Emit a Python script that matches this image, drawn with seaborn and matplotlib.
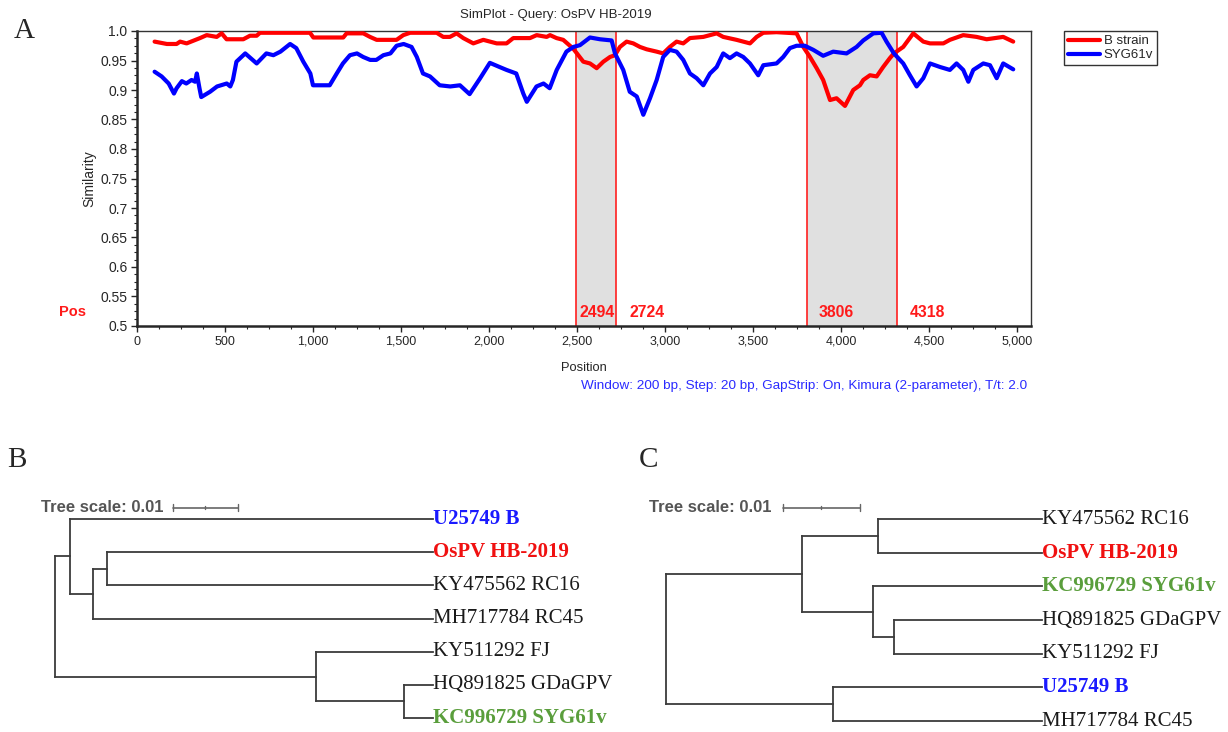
"""
SimPlot similarity curves (A) and two phylogenetic trees (B, C)
"""
import seaborn as sns
import matplotlib.pyplot as plt
import pandas as pd
import numpy as np
from matplotlib.ticker import MultipleLocator, FuncFormatter

# ---- panel A data: similarity of the query to two reference strains ----
pos_bstrain = [100, 170, 225, 245, 282, 358, 396, 453, 481, 509, 604, 642, 680, 699,
               983, 1002, 1172, 1191, 1286, 1324, 1362, 1475, 1513, 1552, 1703, 1740,
               1778, 1816, 1854, 1911, 1968, 2044, 2100, 2138, 2233, 2271, 2328, 2347,
               2384, 2422, 2479, 2536, 2574, 2612, 2650, 2688, 2716, 2744, 2782, 2820,
               2858, 2896, 2953, 2990, 3028, 3066, 3104, 3142, 3218, 3294, 3331, 3407,
               3483, 3521, 3559, 3634, 3748, 3786, 3824, 3862, 3899, 3938, 3975, 4023,
               4070, 4108, 4127, 4165, 4203, 4240, 4278, 4301, 4354, 4411, 4468, 4506,
               4582, 4619, 4695, 4771, 4828, 4922, 4979]
sim_bstrain = [0.982, 0.978, 0.978, 0.982, 0.979, 0.988, 0.993, 0.990, 0.996, 0.986,
               0.986, 0.992, 0.992, 0.997, 0.997, 0.989, 0.989, 0.996, 0.996, 0.990,
               0.985, 0.985, 0.993, 0.997, 0.997, 0.990, 0.990, 0.996, 0.988, 0.979,
               0.985, 0.979, 0.979, 0.988, 0.988, 0.993, 0.990, 0.993, 0.988, 0.985,
               0.970, 0.948, 0.945, 0.937, 0.948, 0.956, 0.959, 0.973, 0.982, 0.979,
               0.973, 0.969, 0.965, 0.962, 0.973, 0.982, 0.979, 0.988, 0.990, 0.996,
               0.990, 0.985, 0.979, 0.990, 0.997, 0.998, 0.996, 0.973, 0.956, 0.937,
               0.917, 0.883, 0.886, 0.873, 0.900, 0.908, 0.917, 0.925, 0.923, 0.939,
               0.954, 0.962, 0.973, 0.996, 0.982, 0.979, 0.979, 0.985, 0.993, 0.990,
               0.986, 0.990, 0.982]

pos_syg61v = [100, 140, 180, 210, 225, 255, 280, 310, 330, 340, 355, 365, 415, 455,
              510, 530, 545, 565, 615, 680, 735, 775, 815, 870, 905, 945, 985, 1000,
              1095, 1135, 1170, 1210, 1250, 1285, 1325, 1360, 1400, 1440, 1475, 1515,
              1560, 1590, 1625, 1665, 1720, 1780, 1835, 1890, 1950, 2005, 2060, 2100,
              2155, 2195, 2215, 2270, 2310, 2345, 2385, 2440, 2480, 2517, 2574, 2631,
              2697, 2716, 2763, 2800, 2840, 2877, 2915, 2953, 2990, 3028, 3066, 3104,
              3142, 3180, 3218, 3256, 3294, 3331, 3369, 3407, 3445, 3483, 3530, 3559,
              3634, 3672, 3710, 3748, 3795, 3843, 3899, 3956, 4032, 4089, 4127, 4184,
              4231, 4259, 4301, 4354, 4392, 4430, 4468, 4506, 4563, 4619, 4657, 4695,
              4724, 4752, 4809, 4847, 4885, 4922, 4979]
sim_syg61v = [0.931, 0.923, 0.911, 0.894, 0.903, 0.915, 0.911, 0.917, 0.914, 0.928,
              0.903, 0.888, 0.897, 0.906, 0.911, 0.906, 0.917, 0.948, 0.962, 0.945,
              0.962, 0.959, 0.965, 0.978, 0.971, 0.948, 0.928, 0.908, 0.908, 0.928,
              0.945, 0.959, 0.962, 0.956, 0.951, 0.951, 0.959, 0.962, 0.975, 0.978,
              0.973, 0.956, 0.928, 0.923, 0.908, 0.906, 0.908, 0.893, 0.920, 0.946,
              0.939, 0.934, 0.928, 0.894, 0.880, 0.906, 0.911, 0.903, 0.934, 0.965,
              0.973, 0.976, 0.989, 0.986, 0.984, 0.962, 0.934, 0.897, 0.889, 0.858,
              0.886, 0.917, 0.956, 0.968, 0.965, 0.951, 0.928, 0.920, 0.908, 0.928,
              0.939, 0.962, 0.954, 0.962, 0.956, 0.945, 0.925, 0.942, 0.945, 0.956,
              0.971, 0.975, 0.975, 0.968, 0.958, 0.965, 0.962, 0.973, 0.984, 0.996,
              0.997, 0.982, 0.962, 0.945, 0.925, 0.906, 0.920, 0.945, 0.939, 0.934,
              0.945, 0.934, 0.914, 0.934, 0.945, 0.942, 0.920, 0.945, 0.935]

breakpoints = [2494, 2724, 3806, 4318]
bp_offsets = [18, 74, 68, 74]          # label shift right of each line (bp)

# ---- panel B tree ----
b_tips = ['U25749 B', 'OsPV HB-2019', 'KY475562 RC16', 'MH717784 RC45',
          'KY511292 FJ', 'HQ891825 GDaGPV', 'KC996729 SYG61v']
b_nodes = ['root', 'n1', 'n2', 'n3', 'n4', 'n5']
b_depth = [0.0, 0.0023, 0.0058, 0.0080, 0.0402, 0.0538]
b_children = [('n1', 'n4'), ('U25749 B', 'n2'), ('n3', 'MH717784 RC45'),
              ('OsPV HB-2019', 'KY475562 RC16'), ('KY511292 FJ', 'n5'),
              ('HQ891825 GDaGPV', 'KC996729 SYG61v')]
b_tip_depth = 0.0582

# ---- panel C tree ----
c_tips = ['KY475562 RC16', 'OsPV HB-2019', 'KC996729 SYG61v', 'HQ891825 GDaGPV',
          'KY511292 FJ', 'U25749 B', 'MH717784 RC45']
c_nodes = ['root', 'u', 'p', 'q', 'r', 's']
c_depth = [0.0, 0.0177, 0.0276, 0.0270, 0.0297, 0.0217]
c_children = [('u', 's'), ('p', 'q'), ('KY475562 RC16', 'OsPV HB-2019'),
              ('KC996729 SYG61v', 'r'), ('HQ891825 GDaGPV', 'KY511292 FJ'),
              ('U25749 B', 'MH717784 RC45')]
c_tip_depth = 0.0490

scale_len = 0.01
tip_colors = {'U25749 B': '#1a1aff', 'OsPV HB-2019': '#f01010',
              'KC996729 SYG61v': '#5a9e3c'}

W, H = 1228, 732
sns.set_style("ticks")
plt.rcParams['font.family'] = ['Liberation Sans', 'DejaVu Sans']

fig = plt.figure(figsize=(W / 100, H / 100), dpi=100)


def px_axes(left, top, right, bottom):
    return fig.add_axes([left / W, 1 - bottom / H, (right - left) / W, (bottom - top) / H])


# ================= panel A =================
ax = px_axes(137, 31, 1031, 326)
df = pd.concat([
    pd.DataFrame({'Position': pos_bstrain, 'Similarity': sim_bstrain, 'strain': 'B strain'}),
    pd.DataFrame({'Position': pos_syg61v, 'Similarity': sim_syg61v, 'strain': 'SYG61v'}),
])

for a, b in zip(breakpoints[::2], breakpoints[1::2]):
    ax.axvspan(a, b, color='#e0e0e0', zorder=0, lw=0)
for p in breakpoints:
    ax.axvline(p, color='#ff2020', lw=1.2, zorder=1)

sns.lineplot(data=df, x='Position', y='Similarity', hue='strain', estimator=None,
             palette={'B strain': '#ff0000', 'SYG61v': '#0000ff'}, lw=3,
             ax=ax, zorder=3)

handles, labels = ax.get_legend_handles_labels()
ax.legend(handles, labels, loc='upper left', bbox_to_anchor=(1.037, 1.0),
          borderaxespad=0, frameon=True, fancybox=False, edgecolor='black',
          fontsize=9.5, handlelength=2.4, handletextpad=0.3, borderpad=0.3,
          labelspacing=0.15)
ax.get_legend().get_frame().set_linewidth(1.0)

ax.set_xlim(0, 5080)
ax.set_ylim(0.5, 1.0)
ax.xaxis.set_major_locator(MultipleLocator(500))
ax.xaxis.set_minor_locator(MultipleLocator(125))
ax.xaxis.set_major_formatter(FuncFormatter(lambda v, _: f"{int(v):,}"))
ax.yaxis.set_major_locator(MultipleLocator(0.05))
ax.yaxis.set_minor_locator(MultipleLocator(0.0125))


def ylab(v, _):
    s = f"{v:.2f}".rstrip('0')
    return s + '0' if s.endswith('.') else s


ax.yaxis.set_major_formatter(FuncFormatter(ylab))
ax.tick_params(axis='both', which='major', length=4, width=1, pad=3)
ax.tick_params(axis='x', which='major', labelsize=9)
ax.tick_params(axis='y', which='major', labelsize=10)
ax.tick_params(axis='both', which='minor', length=2.5, width=0.8)
for side in ['left', 'bottom']:
    ax.spines[side].set_linewidth(1.8)
for side in ['top', 'right']:
    ax.spines[side].set_linewidth(1.0)
    ax.spines[side].set_color('#333333')

fig.text(556 / W, 1 - 15 / H, 'SimPlot - Query: OsPV HB-2019', fontsize=9.5,
         ha='center', va='center')
ax.set_xlabel('Position', fontsize=9.3)
ax.set_ylabel('Similarity', fontsize=10)
ax.xaxis.set_label_coords(0.5, -0.123)
ax.yaxis.set_label_coords(-0.046, 0.5)

for p, off in zip(breakpoints, bp_offsets):
    ax.text(p + off, 0.5237, str(p), color='#ff1a1a', fontsize=11.3,
            fontweight='bold', ha='left', va='center', zorder=4)

fig.text(73 / W, 1 - 312 / H, 'Pos', color='#ff1a1a', fontsize=10.5,
         fontweight='bold', ha='center', va='center')
fig.text(1027 / W, 1 - 386 / H,
         'Window: 200 bp, Step: 20 bp, GapStrip: On, Kimura (2-parameter), T/t: 2.0',
         color='#2a2aff', fontsize=9.7, ha='right', va='center')

# panel letters
for letter, x, y in [('A', 24, 31), ('B', 17, 460), ('C', 648, 460)]:
    fig.text(x / W, 1 - y / H, letter, fontsize=21, family='Liberation Serif',
             ha='center', va='center')


# ================= trees =================
def draw_tree(tax, tips, nodes, depth, children, tip_depth, bar_x, bar_y):
    node_depth = dict(zip(nodes, depth))
    node_kids = dict(zip(nodes, children))
    ypos = {t: i for i, t in enumerate(tips)}

    def get_y(n):
        if n not in ypos:
            ypos[n] = np.mean([get_y(k) for k in node_kids[n]])
        return ypos[n]

    get_y('root')
    lc = '#3c3c3c'
    for n in nodes:
        x0 = node_depth[n]
        ys = [ypos[k] for k in node_kids[n]]
        tax.plot([x0, x0], [min(ys), max(ys)], color=lc, lw=1.3, clip_on=False,
                 solid_capstyle='projecting')
        for k in node_kids[n]:
            x1 = node_depth.get(k, tip_depth)
            tax.plot([x0, x1], [ypos[k], ypos[k]], color=lc, lw=1.3, clip_on=False,
                     solid_capstyle='projecting')
    for t in tips:
        col = tip_colors.get(t, '#1a1a1a')
        tax.text(tip_depth, ypos[t], t, color=col, fontsize=15,
                 family='Liberation Serif',
                 fontweight='bold' if t in tip_colors else 'normal',
                 ha='left', va='center')
    # scale bar
    sc = '#666666'
    tax.plot([bar_x, bar_x + scale_len], [bar_y, bar_y], color=sc, lw=1.2, clip_on=False)
    for xx, hh in [(bar_x, 0.1), (bar_x + scale_len, 0.1), (bar_x + scale_len / 2, 0.05)]:
        tax.plot([xx, xx], [bar_y - hh, bar_y + hh], color=sc, lw=1.0, clip_on=False)
    tax.text(bar_x - 0.0015, bar_y, f'Tree scale: {scale_len}', color='#555555',
             fontsize=12, fontweight='bold', ha='right', va='center')
    tax.set_xlim(0, tip_depth)
    tax.set_ylim(len(tips) - 1, 0)
    tax.axis('off')


axb = px_axes(55, 519, 433, 718)
draw_tree(axb, b_tips, b_nodes, b_depth, b_children, b_tip_depth, 0.01817, -0.34)

axc = px_axes(666, 519, 1042, 721)
draw_tree(axc, c_tips, c_nodes, c_depth, c_children, c_tip_depth, 0.01525, -0.335)

plt.savefig('out.png', dpi=100)
